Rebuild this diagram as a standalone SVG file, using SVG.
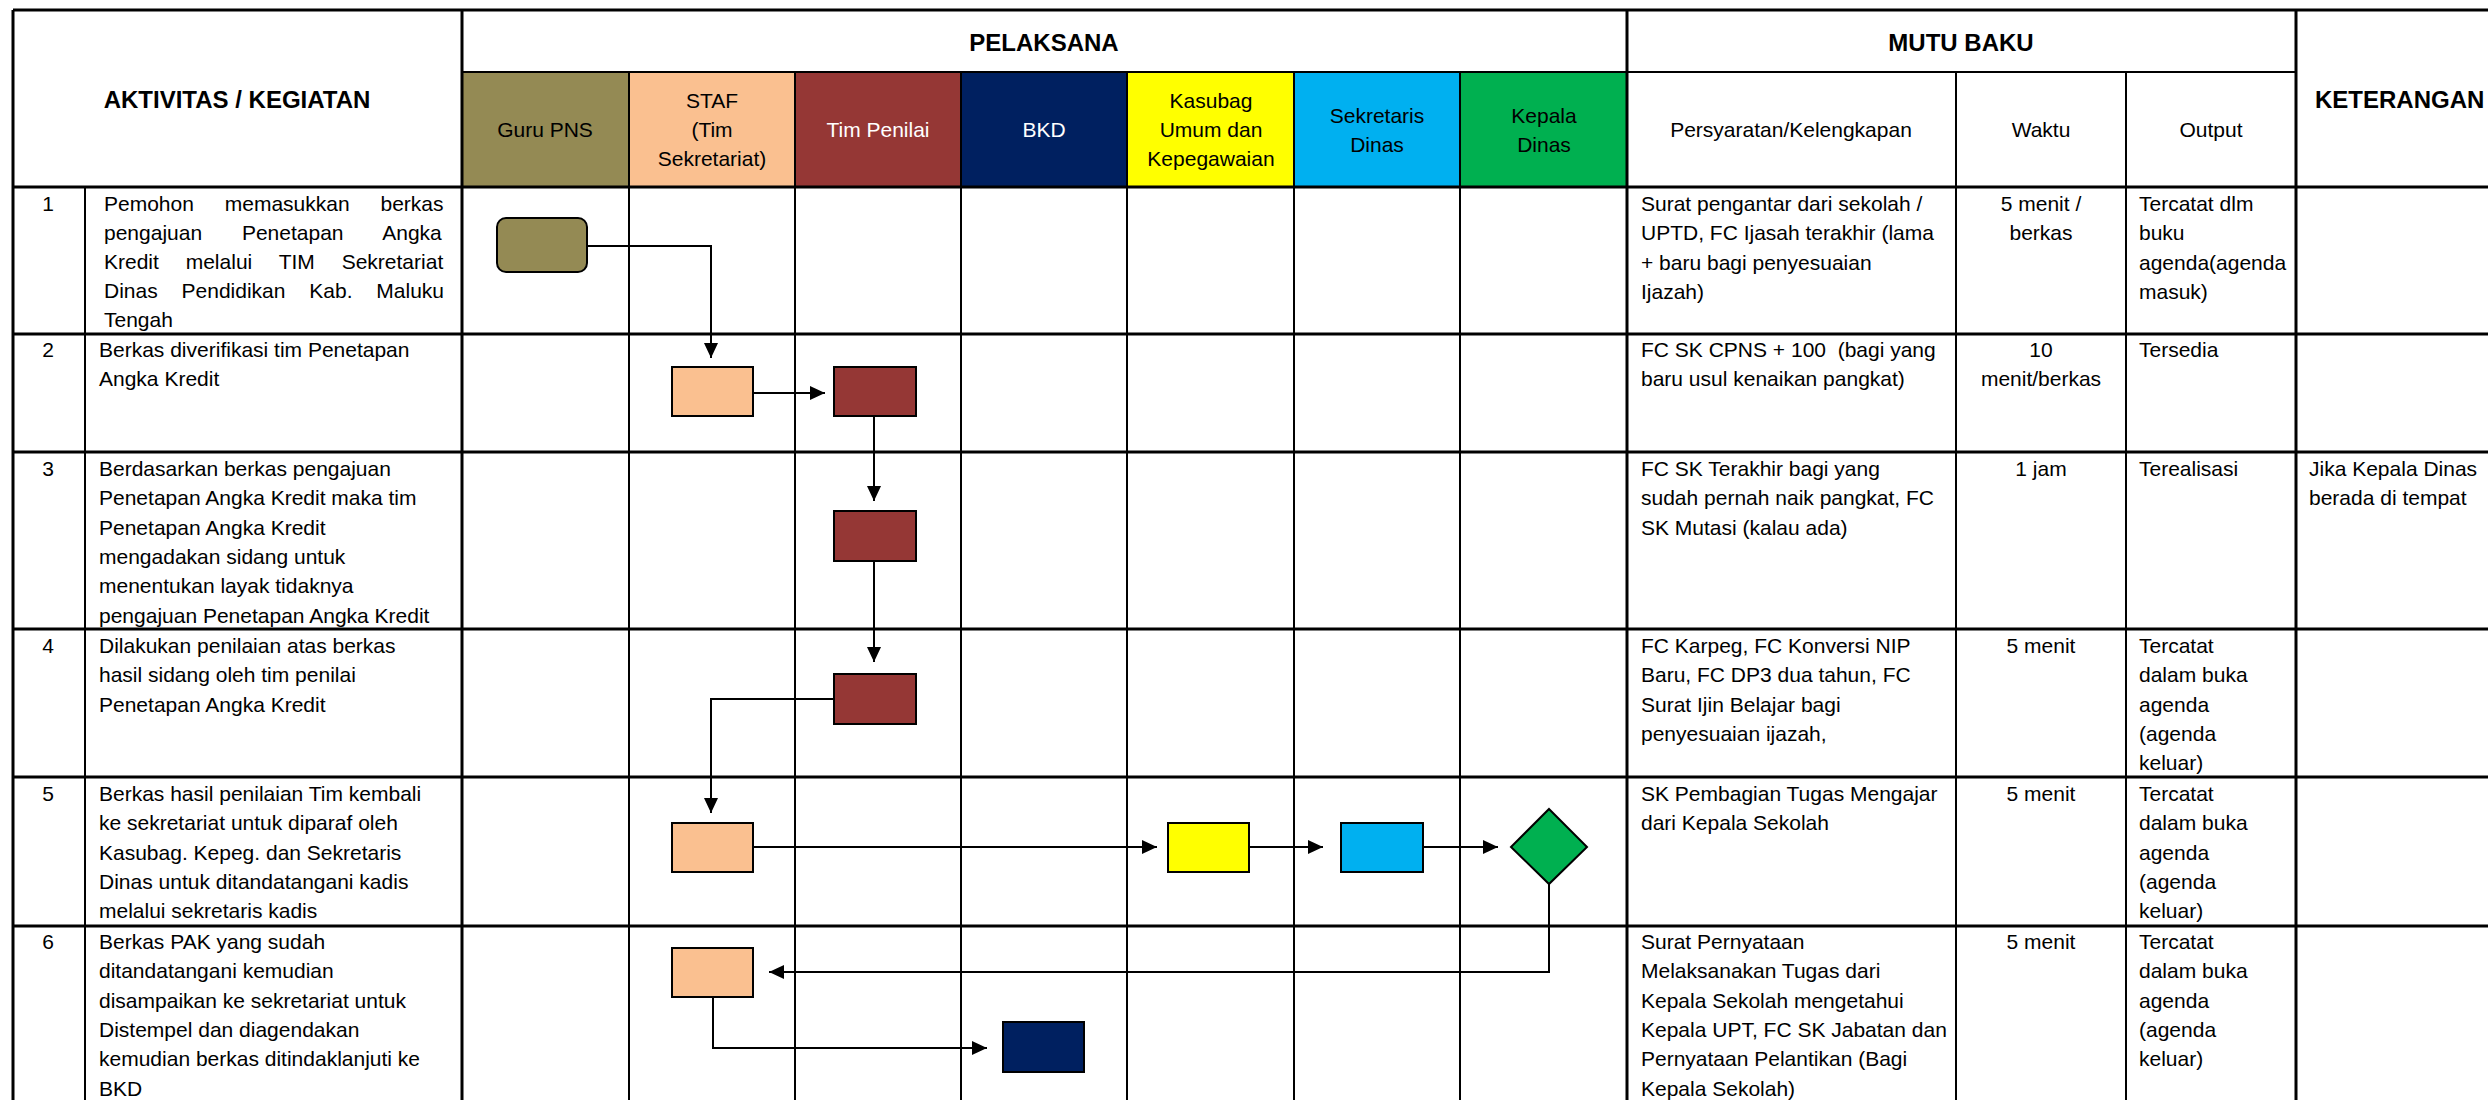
<svg xmlns="http://www.w3.org/2000/svg" width="2488" height="1100" viewBox="0 0 2488 1100">
<style>
text{font-family:"Liberation Sans",Arial,sans-serif;font-size:21px;fill:#000}
.b{font-weight:bold;font-size:24px}
.c{text-anchor:middle}
.w{fill:#fff}
.g{stroke:#000;stroke-width:2;fill:none}
.gt{stroke:#000;stroke-width:3;fill:none}
.box{stroke:#000;stroke-width:2}
.con{stroke:#000;stroke-width:2;fill:none}
</style>
<defs>
<marker id="ah" markerUnits="userSpaceOnUse" markerWidth="16" markerHeight="15" refX="15" refY="7" orient="auto">
<path d="M0,0 L15,7 L0,14 Z" fill="#000"/>
</marker>
</defs>
<rect width="2488" height="1100" fill="#fff"/>
<g id="lane-headers">
<rect x="462" y="72" width="167" height="115" fill="#948A54"/>
<rect x="629" y="72" width="166" height="115" fill="#FAC090"/>
<rect x="795" y="72" width="166" height="115" fill="#953735"/>
<rect x="961" y="72" width="166" height="115" fill="#002060"/>
<rect x="1127" y="72" width="167" height="115" fill="#FFFF00"/>
<rect x="1294" y="72" width="166" height="115" fill="#00B0F0"/>
<rect x="1460" y="72" width="167" height="115" fill="#00B050"/>
</g>
<g id="grid">
<path class="gt" d="M13,10 H2488 M13,187 H2488 M13,334 H2488 M13,452 H2488 M13,629 H2488 M13,777 H2488 M13,926 H2488"/>
<path class="g" d="M462,72 H2296"/>
<path class="gt" d="M13,10 V1100 M462,10 V1100 M1627,10 V1100 M2296,10 V1100"/>
<path class="g" d="M85,187 V1100 M629,72 V1100 M795,72 V1100 M961,72 V1100 M1127,72 V1100 M1294,72 V1100 M1460,72 V1100 M1956,72 V1100 M2126,72 V1100"/>
</g>
<g id="header-text">
<text class="b c" x="237" y="108">AKTIVITAS / KEGIATAN</text>
<text class="b c" x="1044" y="51">PELAKSANA</text>
<text class="b c" x="1961" y="51">MUTU BAKU</text>
<text class="b" x="2315" y="108">KETERANGAN</text>
<text class="c" x="545" y="137">Guru PNS</text>
<text class="c" x="712" y="108">STAF<tspan x="712" dy="29">(Tim</tspan><tspan x="712" dy="29">Sekretariat)</tspan></text>
<text class="c w" x="878" y="137">Tim Penilai</text>
<text class="c w" x="1044" y="137">BKD</text>
<text class="c" x="1211" y="108">Kasubag<tspan x="1211" dy="29">Umum dan</tspan><tspan x="1211" dy="29">Kepegawaian</tspan></text>
<text class="c" x="1377" y="123">Sekretaris<tspan x="1377" dy="29">Dinas</tspan></text>
<text class="c" x="1544" y="123">Kepala<tspan x="1544" dy="29">Dinas</tspan></text>
<text class="c" x="1791" y="137">Persyaratan/Kelengkapan</text>
<text class="c" x="2041" y="137">Waktu</text>
<text class="c" x="2211" y="137">Output</text>
</g>
<g id="row1">
<text class="c" x="48" y="211">1</text>
<text x="104" y="211" word-spacing="25">Pemohon memasukkan berkas</text>
<text x="104" y="240" word-spacing="34">pengajuan Penetapan Angka</text>
<text x="104" y="269" word-spacing="21">Kredit melalui TIM Sekretariat</text>
<text x="104" y="298" word-spacing="18">Dinas Pendidikan Kab. Maluku</text>
<text x="104" y="327">Tengah</text>
<text x="1641" y="211">Surat pengantar dari sekolah /<tspan x="1641" dy="29.3">UPTD, FC Ijasah terakhir (lama</tspan><tspan x="1641" dy="29.3">+ baru bagi penyesuaian</tspan><tspan x="1641" dy="29.3">Ijazah)</tspan></text>
<text class="c" x="2041" y="211">5 menit /<tspan x="2041" dy="29.3">berkas</tspan></text>
<text x="2139" y="211">Tercatat dlm<tspan x="2139" dy="29.3">buku</tspan><tspan x="2139" dy="29.3">agenda(agenda</tspan><tspan x="2139" dy="29.3">masuk)</tspan></text>
</g>
<g id="row2">
<text class="c" x="48" y="357">2</text>
<text x="99" y="357">Berkas diverifikasi tim Penetapan<tspan x="99" dy="29.3">Angka Kredit</tspan></text>
<text x="1641" y="357" xml:space="preserve">FC SK CPNS + 100  (bagi yang<tspan x="1641" dy="29.3">baru usul kenaikan pangkat)</tspan></text>
<text class="c" x="2041" y="357">10<tspan x="2041" dy="29.3">menit/berkas</tspan></text>
<text x="2139" y="357">Tersedia</text>
</g>
<g id="row3">
<text class="c" x="48" y="476">3</text>
<text x="99" y="476">Berdasarkan berkas pengajuan<tspan x="99" dy="29.3">Penetapan Angka Kredit maka tim</tspan><tspan x="99" dy="29.3">Penetapan Angka Kredit</tspan><tspan x="99" dy="29.3">mengadakan sidang untuk</tspan><tspan x="99" dy="29.3">menentukan layak tidaknya</tspan><tspan x="99" dy="29.3">pengajuan Penetapan Angka Kredit</tspan></text>
<text x="1641" y="476">FC SK Terakhir bagi yang<tspan x="1641" dy="29.3">sudah pernah naik pangkat, FC</tspan><tspan x="1641" dy="29.3">SK Mutasi (kalau ada)</tspan></text>
<text class="c" x="2041" y="476">1 jam</text>
<text x="2139" y="476">Terealisasi</text>
<text x="2309" y="476">Jika Kepala Dinas<tspan x="2309" dy="29.3">berada di tempat</tspan></text>
</g>
<g id="row4">
<text class="c" x="48" y="653">4</text>
<text x="99" y="653">Dilakukan penilaian atas berkas<tspan x="99" dy="29.3">hasil sidang oleh tim penilai</tspan><tspan x="99" dy="29.3">Penetapan Angka Kredit</tspan></text>
<text x="1641" y="653">FC Karpeg, FC Konversi NIP<tspan x="1641" dy="29.3">Baru, FC DP3 dua tahun, FC</tspan><tspan x="1641" dy="29.3">Surat Ijin Belajar bagi</tspan><tspan x="1641" dy="29.3">penyesuaian ijazah,</tspan></text>
<text class="c" x="2041" y="653">5 menit</text>
<text x="2139" y="653">Tercatat<tspan x="2139" dy="29.3">dalam buka</tspan><tspan x="2139" dy="29.3">agenda</tspan><tspan x="2139" dy="29.3">(agenda</tspan><tspan x="2139" dy="29.3">keluar)</tspan></text>
</g>
<g id="row5">
<text class="c" x="48" y="801">5</text>
<text x="99" y="801">Berkas hasil penilaian Tim kembali<tspan x="99" dy="29.3">ke sekretariat untuk diparaf oleh</tspan><tspan x="99" dy="29.3">Kasubag. Kepeg. dan Sekretaris</tspan><tspan x="99" dy="29.3">Dinas untuk ditandatangani kadis</tspan><tspan x="99" dy="29.3">melalui sekretaris kadis</tspan></text>
<text x="1641" y="801">SK Pembagian Tugas Mengajar<tspan x="1641" dy="29.3">dari Kepala Sekolah</tspan></text>
<text class="c" x="2041" y="801">5 menit</text>
<text x="2139" y="801">Tercatat<tspan x="2139" dy="29.3">dalam buka</tspan><tspan x="2139" dy="29.3">agenda</tspan><tspan x="2139" dy="29.3">(agenda</tspan><tspan x="2139" dy="29.3">keluar)</tspan></text>
</g>
<g id="row6">
<text class="c" x="48" y="949">6</text>
<text x="99" y="949">Berkas PAK yang sudah<tspan x="99" dy="29.3">ditandatangani kemudian</tspan><tspan x="99" dy="29.3">disampaikan ke sekretariat untuk</tspan><tspan x="99" dy="29.3">Distempel dan diagendakan</tspan><tspan x="99" dy="29.3">kemudian berkas ditindaklanjuti ke</tspan><tspan x="99" dy="29.3">BKD</tspan></text>
<text x="1641" y="949">Surat Pernyataan<tspan x="1641" dy="29.3">Melaksanakan Tugas dari</tspan><tspan x="1641" dy="29.3">Kepala Sekolah mengetahui</tspan><tspan x="1641" dy="29.3">Kepala UPT, FC SK Jabatan dan</tspan><tspan x="1641" dy="29.3">Pernyataan Pelantikan (Bagi</tspan><tspan x="1641" dy="29.3">Kepala Sekolah)</tspan></text>
<text class="c" x="2041" y="949">5 menit</text>
<text x="2139" y="949">Tercatat<tspan x="2139" dy="29.3">dalam buka</tspan><tspan x="2139" dy="29.3">agenda</tspan><tspan x="2139" dy="29.3">(agenda</tspan><tspan x="2139" dy="29.3">keluar)</tspan></text>
</g>
<g id="connectors">
<path class="con" d="M587,246 H711 V358" marker-end="url(#ah)"/>
<path class="con" d="M753,393 H825" marker-end="url(#ah)"/>
<path class="con" d="M874,416 V501" marker-end="url(#ah)"/>
<path class="con" d="M874,561 V662" marker-end="url(#ah)"/>
<path class="con" d="M834,699 H711 V813" marker-end="url(#ah)"/>
<path class="con" d="M753,847 H1157" marker-end="url(#ah)"/>
<path class="con" d="M1249,847 H1323" marker-end="url(#ah)"/>
<path class="con" d="M1423,847 H1498" marker-end="url(#ah)"/>
<path class="con" d="M1549,884 V972 H769" marker-end="url(#ah)"/>
<path class="con" d="M713,997 V1048 H987" marker-end="url(#ah)"/>
</g>
<g id="n1-guru"><rect class="box" x="497" y="218" width="90" height="54" rx="9" fill="#948A54"/></g>
<g id="n2-staf"><rect class="box" x="672" y="367" width="81" height="49" fill="#FAC090"/></g>
<g id="n2-tim"><rect class="box" x="834" y="367" width="82" height="49" fill="#953735"/></g>
<g id="n3-tim"><rect class="box" x="834" y="511" width="82" height="50" fill="#953735"/></g>
<g id="n4-tim"><rect class="box" x="834" y="674" width="82" height="50" fill="#953735"/></g>
<g id="n5-staf"><rect class="box" x="672" y="823" width="81" height="49" fill="#FAC090"/></g>
<g id="n5-kasubag"><rect class="box" x="1168" y="823" width="81" height="49" fill="#FFFF00"/></g>
<g id="n5-sekretaris"><rect class="box" x="1341" y="823" width="82" height="49" fill="#00B0F0"/></g>
<g id="n5-kepala"><polygon class="box" points="1549,809 1587,847 1549,884 1511,847" fill="#00B050"/></g>
<g id="n6-staf"><rect class="box" x="672" y="948" width="81" height="49" fill="#FAC090"/></g>
<g id="n6-bkd"><rect class="box" x="1003" y="1022" width="81" height="50" fill="#002060"/></g>
</svg>
